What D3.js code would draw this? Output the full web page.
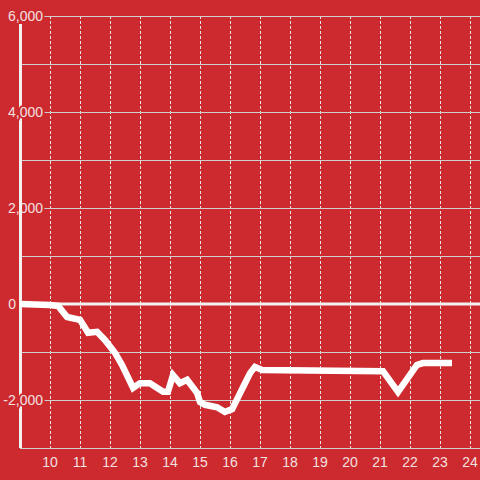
<!DOCTYPE html>
<html><head><meta charset="utf-8">
<script src="https://cdn.jsdelivr.net/npm/d3@7"></script>
<style>html,body{margin:0;padding:0;background:#cc2a2f;}svg{display:block;}</style>
</head><body>
<script>
const times = [9.0,10.0,10.27,10.57,11.0,11.27,11.57,11.83,12.17,12.4,12.77,13.0,13.33,13.77,13.93,14.1,14.33,14.57,14.9,15.0,15.17,15.57,15.83,16.07,16.27,16.5,16.67,16.83,17.07,21.1,21.6,22.23,22.43,23.4];
const values = [0,-20,-40,-270,-330,-600,-580,-750,-1020,-1270,-1750,-1650,-1650,-1830,-1830,-1480,-1650,-1580,-1850,-2040,-2100,-2150,-2250,-2190,-1940,-1650,-1440,-1310,-1375,-1400,-1830,-1270,-1230,-1230];
const xTicks = [10,11,12,13,14,15,16,17,18,19,20,21,22,23,24];
const yGrid = [-3000,-2000,-1000,0,1000,2000,3000,4000,5000,6000];
const yLabels = [-2000,0,2000,4000,6000];

const W=480,H=480,bg="#cc2a2f";
const x = d3.scaleLinear().domain([9, 24.333]).range([20, 480]);
const y = d3.scaleLinear().domain([-3000, 6000]).range([448, 16]);
const svg = d3.select("body").append("svg").attr("width",W).attr("height",H);
svg.append("rect").attr("width",W).attr("height",H).attr("fill",bg);

// vertical dashed grid
svg.append("g").selectAll("line").data(xTicks).join("line")
  .attr("x1",d=>x(d)).attr("x2",d=>x(d)).attr("y1",y(6000)).attr("y2",y(-3000))
  .attr("stroke","#e6e6e6").attr("stroke-width",1).attr("stroke-dasharray","3,2")
  .attr("shape-rendering","crispEdges");
// horizontal grid
svg.append("g").selectAll("line").data(yGrid.filter(d=>d!==0)).join("line")
  .attr("x1",20).attr("x2",W).attr("y1",d=>y(d)).attr("y2",d=>y(d))
  .attr("stroke","#cfcfcf").attr("stroke-width",1).attr("shape-rendering","crispEdges");
// zero line
svg.append("line").attr("x1",20).attr("x2",W).attr("y1",y(0)).attr("y2",y(0))
  .attr("stroke","#f2f2f2").attr("stroke-width",3);

// y labels with halo
const fmt = d3.format(",");
svg.append("g").selectAll("text").data(yLabels).join("text")
  .attr("x",d=>d===0?16:43).attr("y",d=>y(d)+5).attr("text-anchor","end")
  .attr("font-family","Liberation Sans, Arial, sans-serif").attr("font-size",14)
  .attr("fill","#f3e0e0").attr("stroke",bg).attr("stroke-width",4).attr("paint-order","stroke")
  .text(d=>fmt(d).replace("−","-"));

// y axis line
svg.append("line").attr("x1",20.5).attr("x2",20.5).attr("y1",24).attr("y2",y(-3000))
  .attr("stroke","#f2f2f2").attr("stroke-width",3);
// re-cover axis where 4,000 / -2,000 labels sit
svg.append("g").selectAll("text").data([4000,-2000]).join("text")
  .attr("x",43).attr("y",d=>y(d)+5).attr("text-anchor","end")
  .attr("font-family","Liberation Sans, Arial, sans-serif").attr("font-size",14)
  .attr("fill","#f3e0e0").attr("stroke",bg).attr("stroke-width",4).attr("paint-order","stroke")
  .text(d=>fmt(d).replace("−","-"));

// x tick labels
svg.append("g").selectAll("text").data(xTicks).join("text")
  .attr("x",d=>x(d)).attr("y",467).attr("text-anchor","middle")
  .attr("font-family","Liberation Sans, Arial, sans-serif").attr("font-size",14)
  .attr("fill","#f3e0e0").text(d=>d);

// data line
const line = d3.line().x((d,i)=>x(times[i])).y((d,i)=>y(values[i]));
svg.append("path").datum(values).attr("d",line).attr("fill","none")
  .attr("stroke","#ffffff").attr("stroke-width",6.5).attr("stroke-linejoin","miter");
</script>
</body></html>
